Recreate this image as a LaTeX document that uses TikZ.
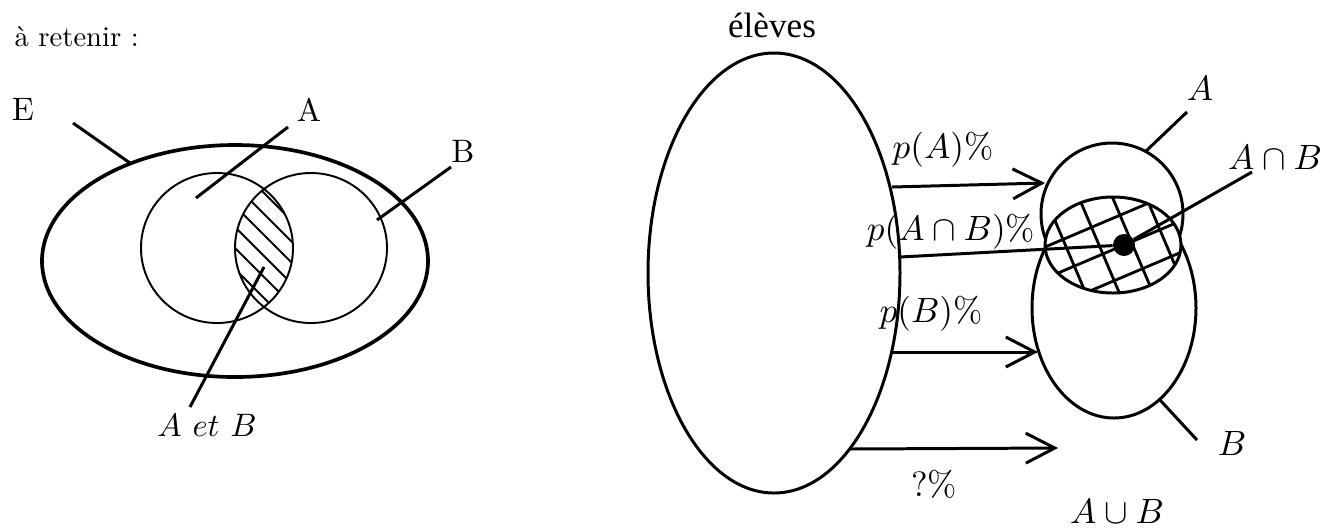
\documentclass[tikz,border=0pt]{standalone}
\usepackage{amsmath}
\usepackage{fontspec}
\usepackage{tikz}
\usetikzlibrary{arrows.meta}
\newfontfamily\timesfont{Liberation Serif}
\tikzset{
  venn/.style={line width=1.1pt},
  bigset/.style={line width=2.1pt},
  leader/.style={line width=1.7pt},
  hatchline/.style={line width=1.1pt},
  gridline/.style={line width=1.6pt},
  arrow/.style={-{Straight Barb[length=5.8mm, width=6mm, line width=1.7pt]}, line width=1.7pt},
  lbl/.style={inner sep=0pt, scale=1.85, transform shape},
  mlbl/.style={inner sep=0pt, scale=2, transform shape},
  dotnode/.style={circle, fill=black, inner sep=0pt, minimum size=0.44cm}
}

\begin{document}
\begin{tikzpicture}[x=0.02cm, y=-0.02cm]
  \useasboundingbox (0,0) rectangle (1325,529);
  \node[inner sep=0pt, scale=1.63, transform shape, anchor=west] (retenir) at (14,37) {à retenir :};
  \draw[bigset] (235,261) ellipse [x radius=193, y radius=116];
  \draw[venn] (217,248) circle [x radius=76, y radius=75];
  \draw[venn] (311,248) circle [x radius=76, y radius=75];
  \begin{scope}
    \clip (217,248) circle [x radius=76, y radius=75];
    \clip (311,248) circle [x radius=76, y radius=75];
    \foreach \c in {-92,-71,...,76} \draw[hatchline] (150,150+\c) -- ++(200,200);
  \end{scope}
  \node[lbl] (E) at (23,109) {E};
  \node[lbl] (A) at (309,110) {A};
  \node[lbl] (B) at (463,151) {B};
  \node[lbl] (AetB) at (207,425) {$A\ et\ B$};
  \coordinate (e0) at (73,123);  \coordinate (e1) at (130,163);
  \coordinate (a0) at (288,127); \coordinate (a1) at (196,198);
  \coordinate (b0) at (451,167); \coordinate (b1) at (377,220);
  \coordinate (i0) at (190,407); \coordinate (i1) at (264,267);
  \draw[leader] (e0) -- (e1);
  \draw[leader] (a0) -- (a1);
  \draw[leader] (b0) -- (b1);
  \draw[leader] (i0) -- (i1);

  \node[inner sep=0pt, font=\timesfont\fontsize{20}{24}\selectfont, anchor=base] (eleves) at (772,37) {élèves};
  \draw[leader] (774,273) ellipse [x radius=126, y radius=220];
  \draw[leader] (1112,214) circle [radius=71];
  \draw[leader] (1114,308) ellipse [x radius=82, y radius=110];
  \fill[white] (1113,245) ellipse [x radius=68, y radius=48];
  \begin{scope}
    \clip (1113,245) ellipse [x radius=68, y radius=48];
    \begin{scope}[shift={(1124,245)}, rotate=23]
      \foreach \k in {-3,...,3} {
        \draw[gridline] (\k*31+8,-120) -- (\k*31+8,120);
        \draw[gridline] (-120,\k*29) -- (120,\k*29);
      }
    \end{scope}
  \end{scope}
  \draw[leader] (1113,245) ellipse [x radius=68, y radius=48];
  \node[dotnode] (dot) at (1124,245) {};

  \node[mlbl] (pA) at (943,150) {$p(A)\%$};
  \node[mlbl] (pAB) at (951,232) {$p(A\cap B)\%$};
  \node[mlbl] (pB) at (931,314) {$p(B)\%$};
  \node[mlbl] (rest) at (934,484) {$?\%$};
  \node[mlbl] (AuB) at (1117,511) {$A\cup B$};
  \node[mlbl] (Ar) at (1200,88) {$A$};
  \node[mlbl] (AnB) at (1275,157) {$A\cap B$};
  \node[mlbl] (Br) at (1232,443) {$B$};

  \coordinate (s1) at (892,187); \coordinate (t1) at (1045,183);
  \coordinate (s2) at (900,257);
  \coordinate (s3) at (893,352); \coordinate (t3) at (1038,352);
  \coordinate (s4) at (850,449); \coordinate (t4) at (1058,448);
  \draw[arrow] (s1) -- (t1);
  \draw[leader] (s2) -- (dot);
  \draw[arrow] (s3) -- (t3);
  \draw[arrow] (s4) -- (t4);
  \coordinate (ar0) at (1187,112); \coordinate (ar1) at (1145,152);
  \coordinate (an0) at (1252,172);
  \coordinate (br0) at (1160,400); \coordinate (br1) at (1197,440);
  \draw[leader] (ar0) -- (ar1);
  \draw[leader] (an0) -- (dot);
  \draw[leader] (br0) -- (br1);
\end{tikzpicture}
\end{document}
